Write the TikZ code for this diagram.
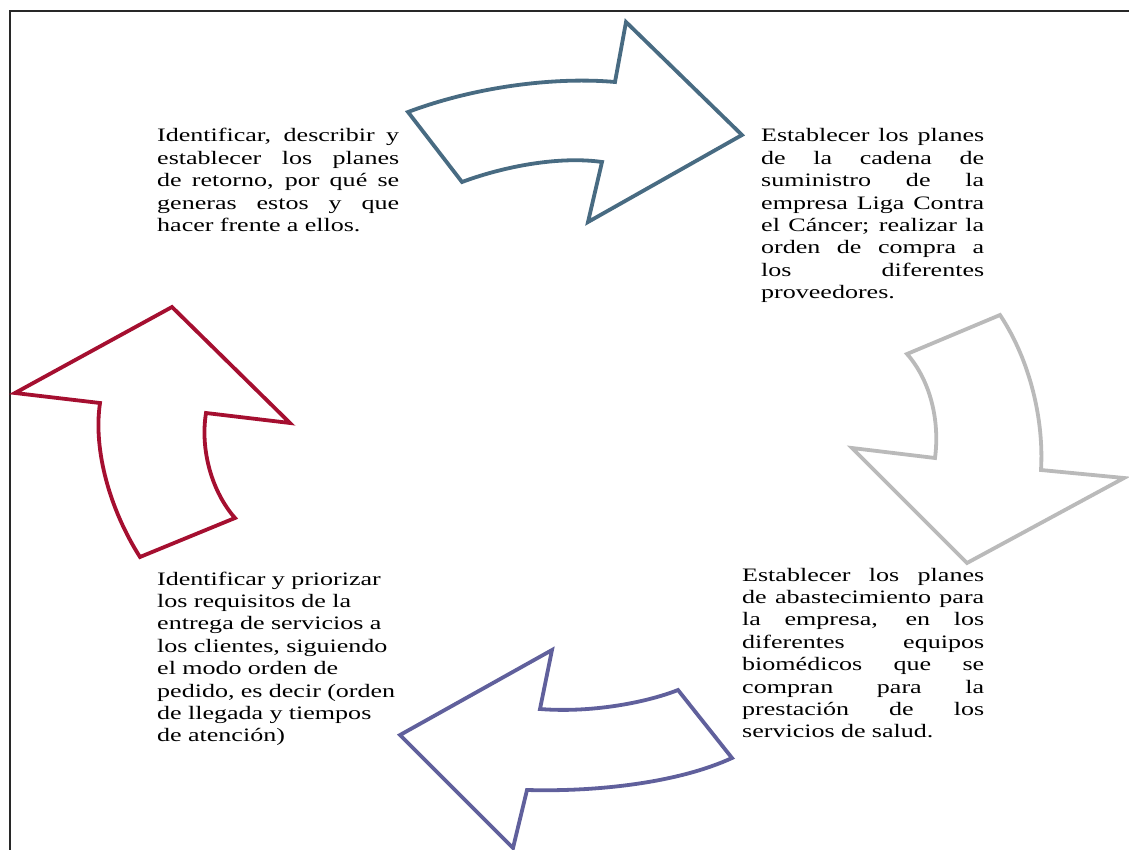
\documentclass[tikz,border=0pt]{standalone}
\usepackage{fontspec}
\setmainfont[FakeStretch=1.37]{Liberation Serif}
\definecolor{arrowblue}{RGB}{72,107,130}
\definecolor{arrowgray}{RGB}{186,186,186}
\definecolor{arrowred}{RGB}{165,15,48}
\definecolor{arrowpurple}{RGB}{96,96,156}
\definecolor{framegray}{RGB}{40,40,40}
% one justified line spread to the full text width
% (the font's own stretchable interword space is restored first)
\newcommand\jline[1]{\makebox[\linewidth][s]{\spaceskip=0pt\xspaceskip=0pt #1}\\}
\begin{document}
\begin{tikzpicture}[x=1pt,y=-1pt,
  arrowshape/.style={line width=3.8pt,line join=miter,fill=white},
  stepnote/.style={anchor=base west,inner sep=0pt,align=left,
    font=\fontsize{19}{22.4}\selectfont}]
\useasboundingbox (0,0) rectangle (1129,850);
% frame of the page region
\draw[framegray,line width=1.8pt] (10,851) -- (10,11) -- (1130,11);

% top arrow, pointing right
\draw[arrowshape,draw=arrowblue]
  (408,112) -- (462,182)
  .. controls (505,166) and (560,156) .. (602,162)
  -- (588,222) -- (742,135) -- (626,22) -- (615,82)
  .. controls (560,77) and (480,85) .. (408,112) -- cycle;

% right arrow, pointing down
\draw[arrowshape,draw=arrowgray]
  (907,354) -- (1000,315)
  .. controls (1030,360) and (1044,420) .. (1041,470)
  -- (1124,478) -- (967,563) -- (852,448) -- (935,458)
  .. controls (940,420) and (930,380) .. (907,354) -- cycle;

% bottom arrow, pointing left
\draw[arrowshape,draw=arrowpurple]
  (552,650) -- (540,709)
  .. controls (590,713) and (645,703) .. (678,690)
  -- (732,758)
  .. controls (680,782) and (600,792) .. (527,790)
  -- (513,848) -- (400,735) -- cycle;

% left arrow, pointing up
\draw[arrowshape,draw=arrowred]
  (172,307) -- (290,423) -- (206,413)
  .. controls (200,450) and (212,492) .. (235,518)
  -- (140,557)
  .. controls (110,510) and (93,450) .. (100,403)
  -- (15,393) -- cycle;

\node[stepnote,text width=242pt] (retorno) at (157,142) {%
  \jline{Identificar, describir y}
  \jline{establecer los planes}
  \jline{de retorno, por qué se}
  \jline{generas estos y que}
  hacer frente a ellos.};

\node[stepnote,text width=223pt] (cadena) at (761,142) {%
  \jline{Establecer los planes}
  \jline{de la cadena de}
  \jline{suministro de la}
  \jline{empresa Liga Contra}
  \jline{el Cáncer; realizar la}
  \jline{orden de compra a}
  \jline{los diferentes}
  proveedores.};

\node[stepnote,text width=242pt] (abastecimiento) at (742,581) {%
  \jline{Establecer los planes}
  \jline{de abastecimiento para}
  \jline{la empresa, en los}
  \jline{diferentes equipos}
  \jline{biomédicos que se}
  \jline{compran para la}
  \jline{prestación de los}
  servicios de salud.};

\node[stepnote,text width=245pt] (entrega) at (157,585) {%
  Identificar y priorizar\\
  los requisitos de la\\
  entrega de servicios a\\
  los clientes, siguiendo\\
  el modo orden de\\
  pedido, es decir (orden\\
  de llegada y tiempos\\
  de atención)};
\end{tikzpicture}
\end{document}
